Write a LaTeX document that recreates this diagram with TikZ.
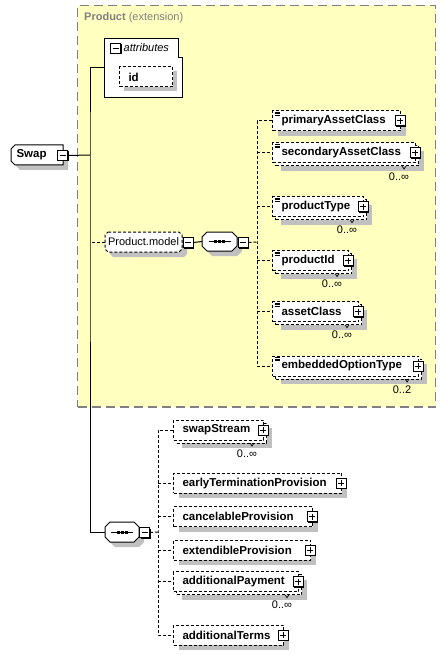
\documentclass[tikz,border=0pt]{standalone}
\usepackage{fontspec}
\setmainfont{Liberation Sans}
\usetikzlibrary{shadows}

\definecolor{groupfill}{RGB}{255,255,192}
\definecolor{groupline}{RGB}{128,128,128}
\definecolor{shadowgray}{RGB}{192,192,192}

\begin{document}
\begin{tikzpicture}[x=1pt,y=-1pt,
    group/.style={
% The shape:
rectangle,
% The size:
minimum width=358pt, minimum height=401.5pt,
% The border:
draw=groupline, line width=1.2pt, dash pattern=on 9pt off 5pt, fill=groupfill,
},
    elem/.style={
% The shape:
rectangle, anchor=west,
% The size:
minimum height=20pt, text width=#1, inner xsep=9pt, inner ysep=0pt,
% The border:
line width=1pt, draw, dash pattern=on 3pt off 2pt, fill=white,
% The text:
font=\fontsize{11.5}{13}\selectfont\bfseries, align=left,
},
    one/.style={drop shadow={shadow xshift=5pt, shadow yshift=-5pt, fill=shadowgray, opacity=1}},
    many/.style={
drop shadow={shadow xshift=8pt, shadow yshift=-8pt, fill=shadowgray, opacity=1},
general shadow={shadow xshift=3pt, shadow yshift=-3pt, draw, line width=1pt, dash pattern=on 3pt off 2pt, fill=white},
},
    typed/.style={path picture={
\foreach \d in {1.5,3,4.5}
  \draw[solid, line width=0.7pt] ([shift={(2,\d)}]path picture bounding box.north west) -- ++(5,0);
}},
    toggle/.style={
% The shape:
rectangle,
% The size:
minimum size=10pt, inner sep=0pt,
% The border:
draw, solid, line width=1pt, fill=white,
general shadow={shadow xshift=1pt, shadow yshift=-1pt, fill=black},
},
    minusbox/.style={toggle, path picture={
\draw[line width=1pt] ([xshift=2pt]path picture bounding box.west) -- ([xshift=-2pt]path picture bounding box.east);
}},
    plusbox/.style={toggle, path picture={
\draw[line width=1pt] ([xshift=2pt]path picture bounding box.west) -- ([xshift=-2pt]path picture bounding box.east)
  ([yshift=-2pt]path picture bounding box.north) -- ([yshift=2pt]path picture bounding box.south);
}},
    bevel/.style={
line width=1pt, draw, fill=white,
drop shadow={shadow xshift=5pt, shadow yshift=-5pt, fill=shadowgray, opacity=1},
},
    label/.style={minimum height=20pt, inner ysep=0pt},
    occ/.style={font=\fontsize{11}{13}\selectfont, inner sep=0pt},
    wire/.style={line width=1pt},
    link/.style={line width=1pt, dash pattern=on 3pt off 2pt},
]
  \useasboundingbox (0,0) rectangle (446,655);

  \node[group] (prod) at (256.5,206.25) {};
  \node[anchor=west, text=groupline, inner sep=0pt, font=\fontsize{11}{13}\selectfont] (prodlabel) at (84,18) {\textbf{Product} (extension)};

  % attributes
  \node[minimum width=77pt, minimum height=58pt, inner sep=0pt] (attr) at (143.5,68) {};
  \draw[line width=1pt, fill=white] (attr.north west) -- ([xshift=-4pt]attr.north east) -- ([shift={(-4,19)}]attr.north east)
    -- ([yshift=-19pt]attr.north east) -- (attr.south east) -- (attr.south west) -- cycle;
  \node[minusbox] (attrT) at (115.5,48.5) {};
  \node[anchor=west, inner sep=0pt, font=\fontsize{11}{13}\selectfont\itshape] (attrtitle) at (123.5,48) {attributes};
  \node[elem=35pt, drop shadow={shadow xshift=4pt, shadow yshift=-4pt, fill=shadowgray, opacity=1}] (id) at (119,77) {id};

  % beveled boxes
  \draw[bevel] (15,145) -- (63,145) -- (63,165) -- (15,165) -- (11,161) -- (11,149) -- cycle;
  \draw[bevel, dash pattern=on 3pt off 2pt] (108,232) -- (179,232) -- (182,235) -- (182,249) -- (179,252)
    -- (108,252) -- (105,249) -- (105,235) -- cycle;
  \draw[bevel] (207,232) -- (232,232) -- (237,237) -- (237,246) -- (232,251) -- (207,251) -- (202,246) -- (202,237) -- cycle;
  \draw[bevel] (110,522) -- (134,522) -- (139,527) -- (139,537) -- (134,542) -- (110,542) -- (105,537) -- (105,527) -- cycle;

  \node[label, minimum width=52pt, text width=41pt, inner xsep=5.5pt, align=left,
    font=\fontsize{11.5}{13}\selectfont\bfseries] (swap) at (37,155) {Swap};
  \node[label, minimum width=77pt, inner xsep=0pt, font=\fontsize{11}{13}\selectfont] (model) at (143.5,242) {Product.model};
  \node[label, minimum width=35pt, inner xsep=0pt] (seqA) at (219.5,241.5) {};
  \node[label, minimum width=34pt, inner xsep=0pt] (seqB) at (122,532) {};
  \foreach \s in {seqA,seqB} {
    \draw[wire] ([xshift=-11pt]\s.center) -- ([xshift=11pt]\s.center);
    \foreach \d in {-4,0,4}
      \fill ([xshift=\d pt]\s.center) +(-1.5,-1.5) rectangle +(1.5,1.5);
  }

  \node[minusbox] (swapT) at (62.5,155.5) {};
  \node[minusbox] (modelT) at (188,242.5) {};
  \node[minusbox] (seqAT) at (243,242.5) {};
  \node[minusbox] (seqBT) at (144.5,532.5) {};

  % connectors
  \coordinate (trunk) at (90,155);
  \coordinate (branchA) at (257,242);
  \coordinate (branchB) at (158,532);
  \draw[wire] (attr.west) -| (trunk) |- (seqB.west);
  \draw[wire] (swapT.east) -- (trunk);
  \draw[link] (model.west) -- (model.west -| trunk);
  \draw[wire] (modelT.east) -- (seqA.west);
  \draw[link] (seqAT.east) -- (branchA);
  \draw[link] (seqBT.east) -- (branchB);

  % Product.model children
  \node[elem=110pt, one, typed]  (pac)   at (272,120.7) {primaryAssetClass};
  \node[elem=125pt, many, typed] (sac)   at (272,153)   {secondaryAssetClass};
  \node[elem=73pt, many, typed]  (ptype) at (272,206.7) {productType};
  \node[elem=58pt, many, typed]  (pid)   at (272,260.5) {productId};
  \node[elem=68pt, many, typed]  (aclass) at (272,311.7) {assetClass};
  \node[elem=128pt, many, typed] (eot)   at (272,366)   {embeddedOptionType};

  % sequence children
  \node[elem=72pt, many]  (sstream) at (173,430)   {swapStream};
  \node[elem=150pt, one]  (etp)     at (173,483.3) {earlyTerminationProvision};
  \node[elem=121pt, one]  (cprov)   at (173,516.7) {cancelableProvision};
  \node[elem=119pt, one]  (eprov)   at (173,550)   {extendibleProvision};
  \node[elem=107pt, many] (apay)    at (173,581.7) {additionalPayment};
  \node[elem=92pt, one]   (aterms)  at (173,635)   {additionalTerms};

  \draw[link] (pac.west) -| (branchA) |- (eot.west);
  \foreach \c in {sac,ptype,pid,aclass}
    \draw[link] (branchA |- \c.west) -- (\c.west);
  \draw[link] (sstream.west) -| (branchB) |- (aterms.west);
  \foreach \c in {etp,cprov,eprov,apay}
    \draw[link] (branchB |- \c.west) -- (\c.west);

  \foreach \c in {pac,sac,ptype,pid,aclass,eot,sstream,etp,cprov,eprov,apay,aterms}
    \node[plusbox] (\c T) at ([xshift=-1pt]\c.east) {};

  % occurrence ticks
  \foreach \c in {sac,ptype,pid,aclass,eot,sstream,apay}
    \draw[line width=0.7pt] ([shift={(-14,13)}]\c.east) -- ++(2,3) -- ++(2,-3);

  \node[occ] (sacN)     at ([shift={(-17,23.5)}]sac.east)     {0..∞};
  \node[occ] (ptypeN)   at ([shift={(-17,23.5)}]ptype.east)   {0..∞};
  \node[occ] (pidN)     at ([shift={(-17,23.5)}]pid.east)     {0..∞};
  \node[occ] (aclassN)  at ([shift={(-17,23.5)}]aclass.east)  {0..∞};
  \node[occ] (eotN)     at ([shift={(-17,23.5)}]eot.east)     {0..2};
  \node[occ] (sstreamN) at ([shift={(-17,23.5)}]sstream.east) {0..∞};
  \node[occ] (apayN)    at ([shift={(-17,23.5)}]apay.east)    {0..∞};
\end{tikzpicture}
\end{document}
